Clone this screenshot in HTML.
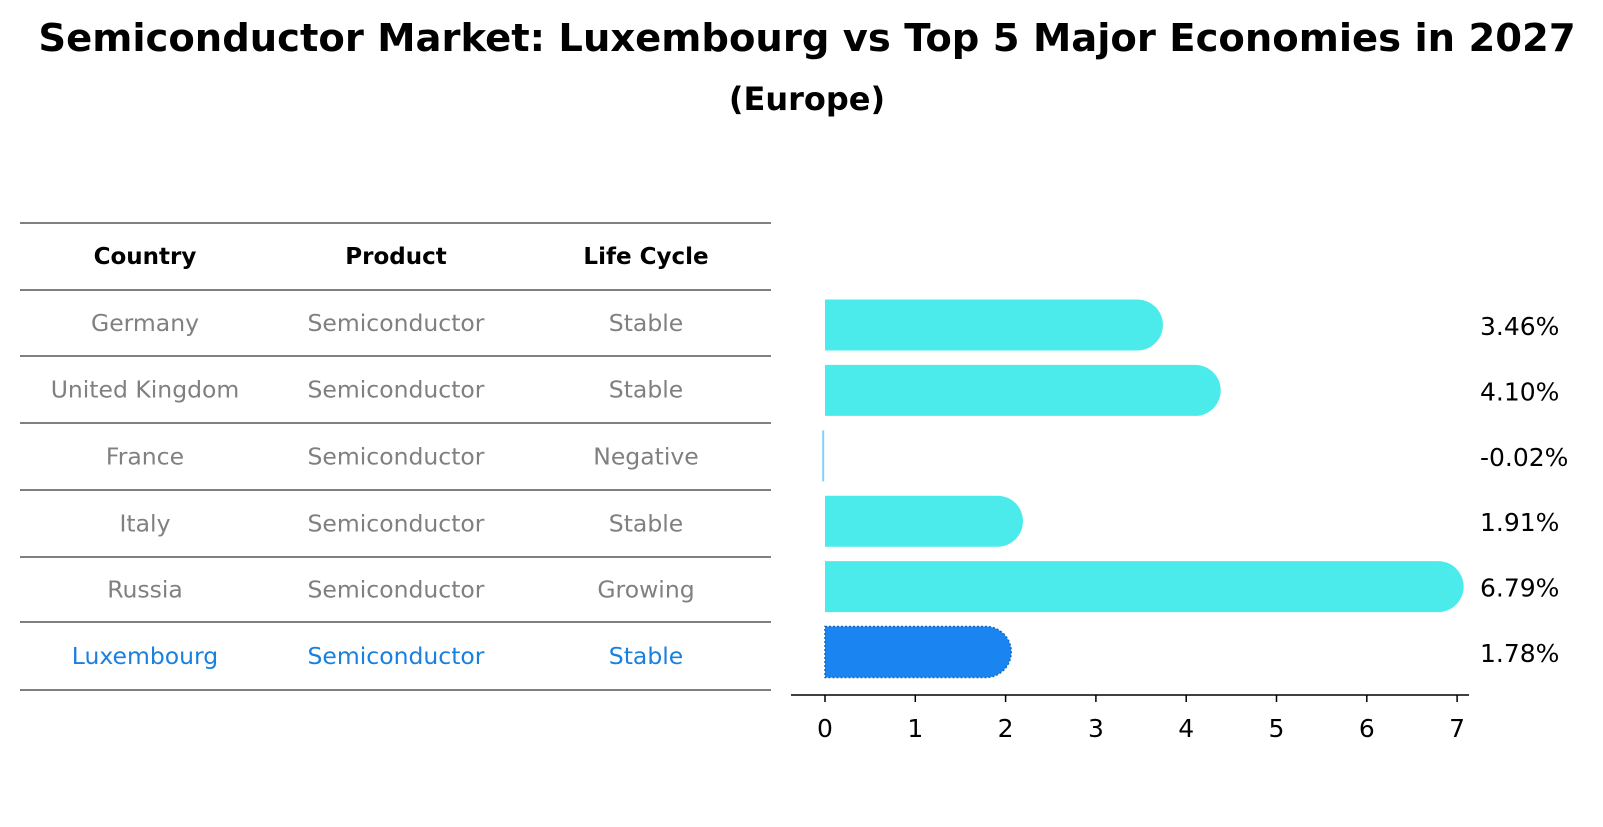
<!DOCTYPE html>
<html><head><meta charset="utf-8"><style>
body{margin:0;background:#fff;width:1603px;height:823px;overflow:hidden;font-family:"DejaVu Sans","Liberation Sans",sans-serif}
</style></head><body>
<svg width="1603" height="823" xmlns="http://www.w3.org/2000/svg" font-family="DejaVu Sans, Liberation Sans, sans-serif">
<text x="807" y="51" text-anchor="middle" font-size="38.5" font-weight="bold">Semiconductor Market: Luxembourg vs Top 5 Major Economies in 2027</text>
<text x="807" y="110" text-anchor="middle" font-size="32" font-weight="bold">(Europe)</text>
<g id="table"></g>
<g id="chart"></g>
</svg>
<script>
const countries=["Germany","United Kingdom","France","Italy","Russia","Luxembourg"];
const products=["Semiconductor","Semiconductor","Semiconductor","Semiconductor","Semiconductor","Semiconductor"];
const lifecycles=["Stable","Stable","Negative","Stable","Growing","Stable"];
const values=[3.46,4.10,-0.02,1.91,6.79,1.78];
const valueLabels=["3.46%","4.10%","-0.02%","1.91%","6.79%","1.78%"];
const ticks=[0,1,2,3,4,5,6,7];
const NS="http://www.w3.org/2000/svg";
function mk(tag,attrs,parent){const e=document.createElementNS(NS,tag);for(const k in attrs)e.setAttribute(k,attrs[k]);parent.appendChild(e);return e;}
const tbl=document.getElementById('table');
const lineYs=[223,290,356,423,490,557,622,690];
lineYs.forEach(y=>{const l=mk('line',{x1:20,x2:771,y1:y,y2:y,stroke:'#000','stroke-width':1},tbl);

});
const colX=[145,396,646];
["Country","Product","Life Cycle"].forEach((h,i)=>{const t=mk('text',{x:colX[i],y:264,'text-anchor':'middle','font-size':23,'font-weight':'bold'},tbl);t.textContent=h;

});
countries.forEach((c,r)=>{const y=(lineYs[r+1]+lineYs[r+2])/2+8;const col=r===5?'#1a80e0':'#808080';
[c,products[r],lifecycles[r]].forEach((v,i)=>{const t=mk('text',{x:colX[i],y:y,'text-anchor':'middle','font-size':23.5,fill:col},tbl);t.textContent=v;

});});
const ch=document.getElementById('chart');
const x0=825,ppu=90.3;
const xs=v=>x0+v*ppu;
const rowY=i=>325+i*65.4;
const bh=51,r=25.5;
values.forEach((v,i)=>{const cy=rowY(i);const lux=i===5;
let el;
if(v<0.05){el=mk('rect',{x:xs(Math.min(v,0))-1,y:cy-bh/2,width:Math.max(2,Math.abs(xs(v)-x0)),height:bh,fill:'#87cefa'},ch);}
else{const xe=xs(v);
el=mk('path',{d:`M${x0},${cy-bh/2} L${xe},${cy-bh/2} A${r},${r} 0 0 1 ${xe},${cy+bh/2} L${x0},${cy+bh/2} Z`,fill:lux?'#1a85f0':'#4bebeb',stroke:lux?'#1566c0':'none','stroke-width':lux?1.5:0,'stroke-dasharray':lux?'2,2':'none'},ch);}


const t=mk('text',{x:1480,y:cy+10,'font-size':25},ch);t.textContent=valueLabels[i];

});
const ax=mk('line',{x1:791,x2:1469,y1:695,y2:695,stroke:'#000','stroke-width':1.5},ch);


ticks.forEach(v=>{const tk=mk('line',{x1:xs(v),x2:xs(v),y1:695,y2:702,stroke:'#000','stroke-width':1.5},ch);


const t=mk('text',{x:xs(v),y:737,'text-anchor':'middle','font-size':25},ch);t.textContent=v;

});
</script>
</body></html>
